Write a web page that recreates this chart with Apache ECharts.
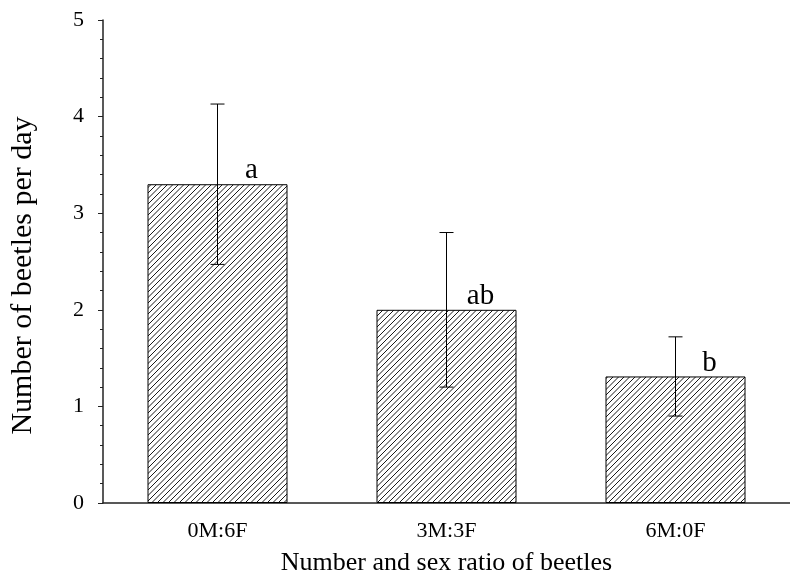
<!DOCTYPE html>
<html>
<head>
<meta charset="utf-8">
<script src="https://cdn.jsdelivr.net/npm/echarts@6/dist/echarts.min.js"></script>
<style>
  html, body { margin: 0; padding: 0; background: #fff; }
  #chart { width: 790px; height: 581px; }
</style>
</head>
<body>
<div id="chart"></div>
<script>
// Beetle groups and their daily counts (mean ± error)
const categories = ['0M:6F', '3M:3F', '6M:0F'];
const means = [3.3, 2.0, 1.31];
const errors = [0.83, 0.8, 0.41];
const groupLetters = ['a', 'ab', 'b'];
const yTicks = { min: 0, max: 5, step: 1 };

const FONT = '"Liberation Serif", "Times New Roman", serif';

// Diagonal hatch fill for the bars
function hatchPattern() {
  const s = 11;
  const c = document.createElement('canvas');
  c.width = s; c.height = s;
  const ctx = c.getContext('2d');
  ctx.fillStyle = '#fff';
  ctx.fillRect(0, 0, s, s);
  ctx.strokeStyle = '#1a1a1a';
  ctx.lineWidth = 1;
  for (let k = 0; k <= 4; k++) {
    const d = k * s / 2;
    ctx.beginPath();
    ctx.moveTo(d + 2, -2);
    ctx.lineTo(-2, d + 2);
    ctx.stroke();
  }
  return c;
}

const barData = means.map((m, i) => ({
  value: m,
  label: { formatter: groupLetters[i] }
}));
const errData = means.map((m, i) => [i, m - errors[i], m + errors[i]]);

const chart = echarts.init(document.getElementById('chart'), null, { renderer: 'canvas' });
chart.setOption({
  backgroundColor: '#fff',
  animation: false,
  grid: { left: 95, top: 20, bottom: 77, width: 697 },
  xAxis: {
    type: 'category',
    data: categories,
    boundaryGap: true,
    name: 'Number and sex ratio of beetles',
    nameLocation: 'middle',
    nameGap: 47,
    nameTextStyle: { fontFamily: FONT, fontSize: 26, color: '#000' },
    axisLine: { lineStyle: { color: '#222', width: 1.5 } },
    axisTick: { alignWithLabel: true, length: 5, lineStyle: { color: '#222' } },
    axisLabel: { fontFamily: FONT, fontSize: 22, color: '#000', margin: 17 }
  },
  yAxis: {
    type: 'value',
    min: yTicks.min,
    max: yTicks.max,
    interval: yTicks.step,
    name: 'Number of beetles per day',
    nameLocation: 'middle',
    nameGap: 65,
    nameTextStyle: { fontFamily: FONT, fontSize: 30, color: '#000', padding: [0, 0, 0, -28] },
    axisLine: { show: true, lineStyle: { color: '#222', width: 1.5 } },
    axisTick: { show: true, length: 5, lineStyle: { color: '#222' } },
    minorTick: { show: true, splitNumber: 5, length: 3, lineStyle: { color: '#222' } },
    splitLine: { show: false },
    axisLabel: { fontFamily: FONT, fontSize: 22, color: '#000', margin: 19 }
  },
  series: [
    {
      type: 'bar',
      data: barData,
      barWidth: 140,
      itemStyle: {
        color: { image: hatchPattern(), repeat: 'repeat' },
        borderColor: '#000',
        borderWidth: 1
      },
      label: {
        show: true,
        position: 'top',
        distance: 0,
        offset: [34, 1],
        fontFamily: FONT,
        fontSize: 29,
        color: '#000'
      }
    },
    {
      type: 'custom',
      data: errData,
      z: 5,
      renderItem: function (params, api) {
        const x = api.value(0);
        const top = api.coord([x, api.value(2)]);
        const bot = api.coord([x, api.value(1)]);
        const hw = 7;
        const st = { stroke: '#000', lineWidth: 1 };
        return {
          type: 'group',
          children: [
            { type: 'line', shape: { x1: top[0], y1: top[1], x2: bot[0], y2: bot[1] }, style: st },
            { type: 'line', shape: { x1: top[0] - hw, y1: top[1], x2: top[0] + hw, y2: top[1] }, style: st },
            { type: 'line', shape: { x1: bot[0] - hw, y1: bot[1], x2: bot[0] + hw, y2: bot[1] }, style: st }
          ]
        };
      }
    }
  ]
});
</script>
</body>
</html>
